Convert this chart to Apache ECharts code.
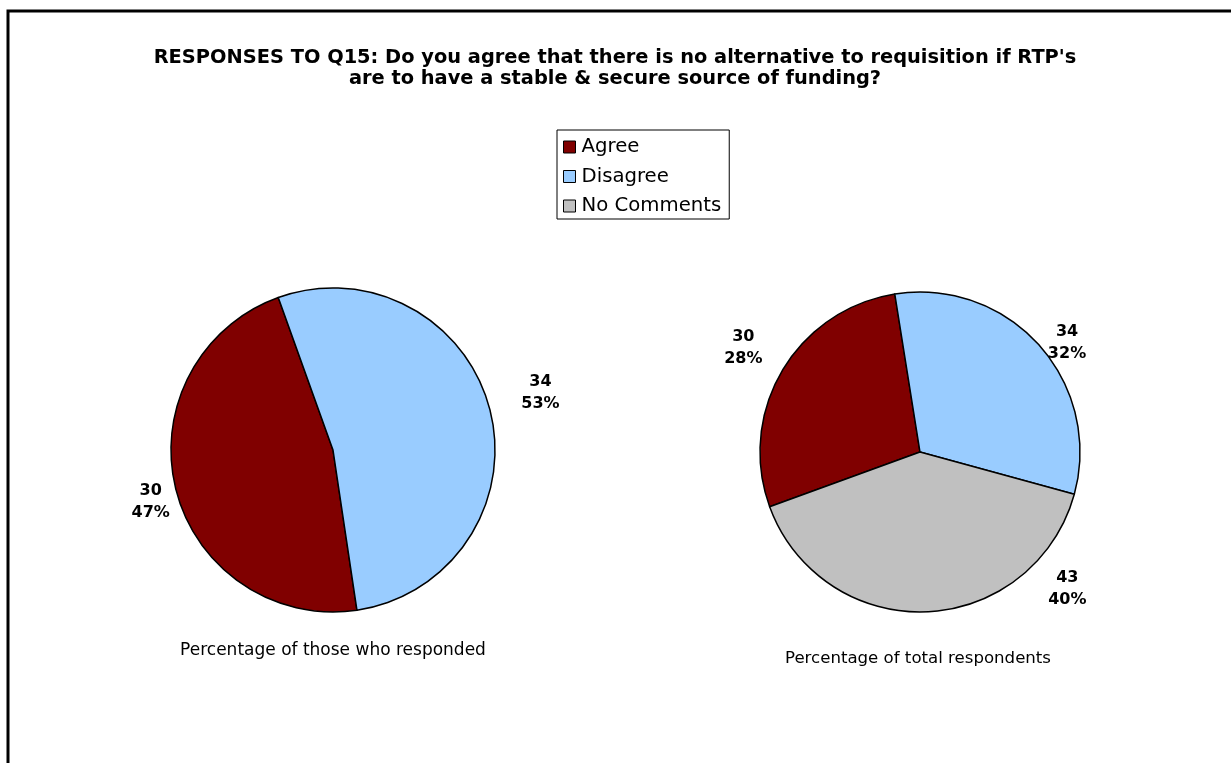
<!DOCTYPE html>
<html>
<head>
<meta charset="utf-8">
<title>Responses to Q15</title>
<script src="https://cdn.jsdelivr.net/npm/echarts@6/dist/echarts.min.js"></script>
<style>
  html, body { margin: 0; padding: 0; background: #ffffff; }
  #chart { width: 1231px; height: 763px; }
</style>
</head>
<body>
<div id="chart"></div>
<script>
// Response categories and counts
const categories = ['Agree', 'Disagree', 'No Comments'];
const respondedCounts = [30, 34];      // those who answered yes / no
const totalCounts = [30, 34, 43];      // all respondents, incl. no comment

const titleText = "RESPONSES TO Q15: Do you agree that there is no alternative to requisition if RTP's\nare to have a stable & secure source of funding?";
const leftCaption = 'Percentage of those who responded';
const rightCaption = 'Percentage of total respondents';

// Styling (kept apart from the data)
const sliceColors = { 'Agree': '#800000', 'Disagree': '#99CCFF', 'No Comments': '#C0C0C0' };
const FONT = '"DejaVu Sans", Verdana, sans-serif';
// label line lengths per slice (series -> category)
const labelReach = [
  { 'Agree': 28, 'Disagree': 53 },
  { 'Agree': 45, 'Disagree': 24, 'No Comments': 20 }
];
// extra offsets for labels placed away from the slice middle
const labelNudge = { '0-0': [2, 5], '0-1': [-1, -5], '1-1': [10, 14], '1-2': [140, -43] };

function buildData(counts, seriesIdx) {
  return counts.map((v, i) => ({
    name: categories[i],
    value: v,
    itemStyle: { color: sliceColors[categories[i]] },
    labelLine: { show: false, length: labelReach[seriesIdx][categories[i]], length2: 0 }
  }));
}

const pieCommon = {
  type: 'pie',
  clockwise: true,
  avoidLabelOverlap: false,
  percentPrecision: 0,
  silent: true,
  itemStyle: { borderColor: '#000000', borderWidth: 1.5 },
  label: {
    show: true,
    position: 'outside',
    formatter: '{c}\n{d}%',
    fontFamily: FONT,
    fontWeight: 'bold',
    fontSize: 16,
    lineHeight: 22,
    color: '#000000',
    distanceToLabelLine: 0
  },
  labelLayout: function (p) {
    const n = labelNudge[p.seriesIndex + '-' + p.dataIndex] || [0, 0];
    return { align: 'center', verticalAlign: 'middle', dx: n[0], dy: n[1] };
  },
  emphasis: { disabled: true }
};

const chart = echarts.init(document.getElementById('chart'), null, { renderer: 'canvas' });

chart.setOption({
  backgroundColor: '#ffffff',
  animation: false,
  title: [
    {
      text: titleText,
      left: 610, top: 42, textAlign: 'center',
      textStyle: { fontFamily: FONT, fontWeight: 'bold', fontSize: 19.4, lineHeight: 21, color: '#000000', align: 'center' }
    },
    {
      text: leftCaption,
      left: 328, top: 637, textAlign: 'center',
      textStyle: { fontFamily: FONT, fontWeight: 'normal', fontSize: 17, color: '#000000' }
    },
    {
      text: rightCaption,
      left: 913, top: 645, textAlign: 'center',
      textStyle: { fontFamily: FONT, fontWeight: 'normal', fontSize: 16.6, color: '#000000' }
    }
  ],
  legend: {
    data: categories,
    orient: 'vertical',
    left: 557, top: 130,
    padding: [7, 8, 3, 6],
    itemWidth: 12, itemHeight: 12, itemGap: 9.5,
    icon: 'rect',
    borderColor: '#000000', borderWidth: 1,
    textStyle: { fontFamily: FONT, fontSize: 19.7, color: '#000000', padding: [0, 0, 0, 1] },
    itemStyle: { borderColor: '#000000', borderWidth: 1 },
    selectedMode: false
  },
  graphic: [
    {
      type: 'rect',
      shape: { x: 8, y: 11, width: 1300, height: 900 },
      style: { fill: null, stroke: '#000000', lineWidth: 3 },
      silent: true
    }
  ],
  series: [
    Object.assign({}, pieCommon, {
      name: leftCaption,
      center: [333, 450],
      radius: 162,
      startAngle: 278.5,
      data: buildData(respondedCounts, 0)
    }),
    Object.assign({}, pieCommon, {
      name: rightCaption,
      center: [920, 452],
      radius: 160,
      startAngle: 200,
      data: buildData(totalCounts, 1)
    })
  ]
});
</script>
</body>
</html>
